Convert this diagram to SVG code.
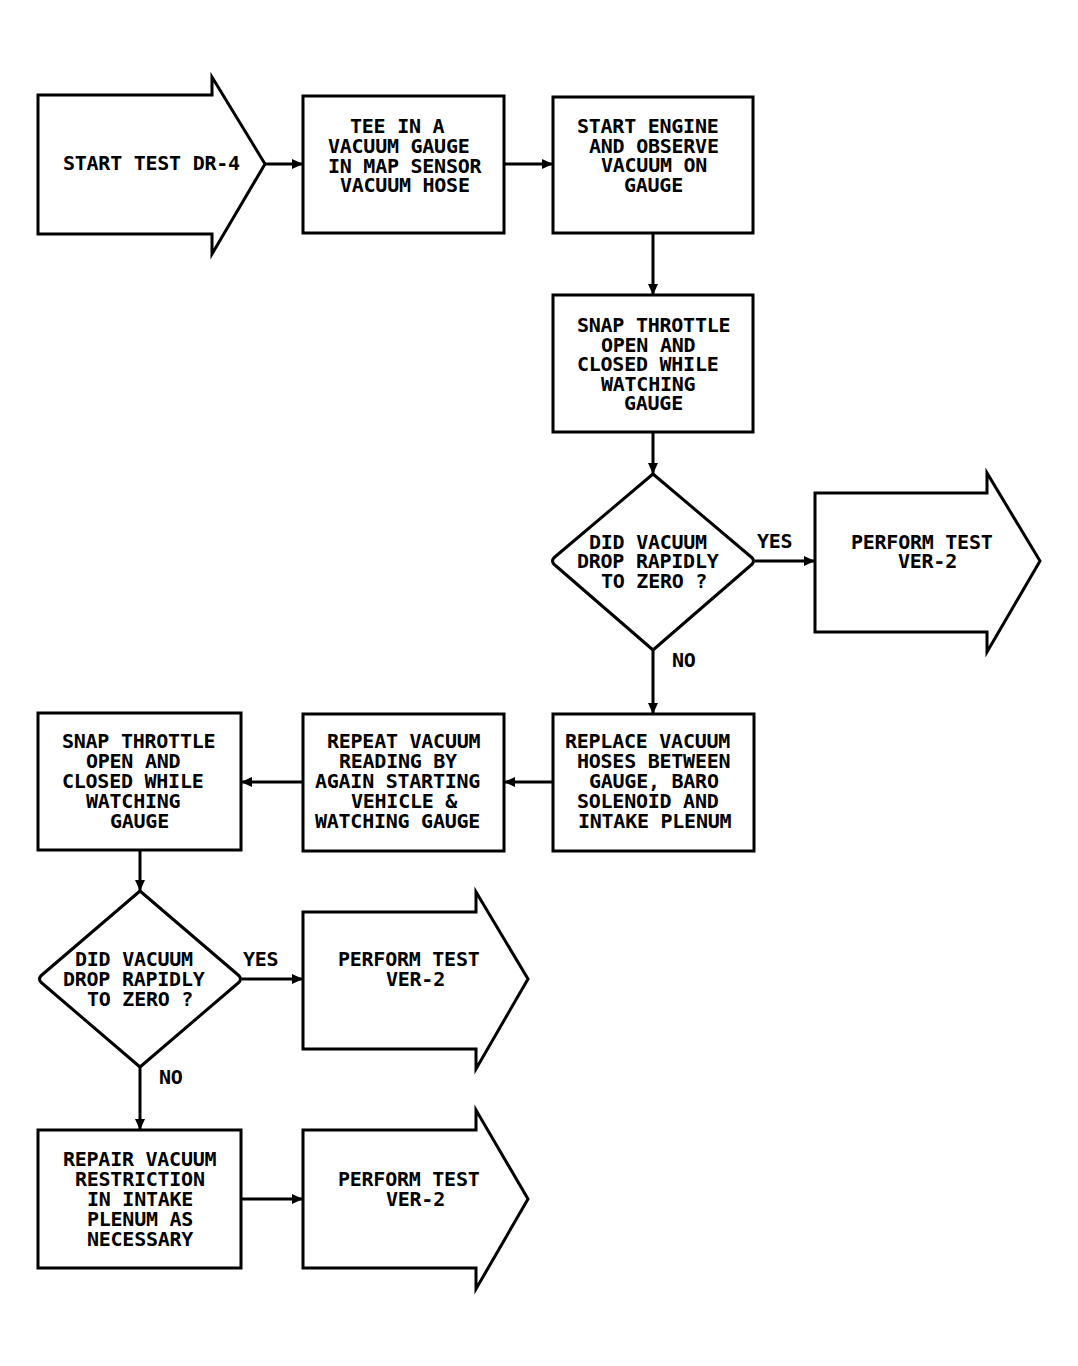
<svg xmlns="http://www.w3.org/2000/svg" width="1078" height="1366" viewBox="0 0 1078 1366">
<defs>
<style>
.s{fill:#fff;stroke:#000;stroke-width:3;stroke-linejoin:miter}
.d{fill:#fff;stroke:#000;stroke-width:3;stroke-linejoin:round}
.c{fill:none;stroke:#000;stroke-width:3}
text{font-family:"DejaVu Sans Mono","Liberation Mono",monospace;font-size:20px;font-weight:bold;letter-spacing:-0.25px;fill:#000}
</style>
<marker id="ah" markerUnits="userSpaceOnUse" markerWidth="12" markerHeight="10" refX="11" refY="5" orient="auto">
<path d="M0,0 L11,5 L0,10 z" fill="#000"/>
</marker>
</defs>
<rect width="1078" height="1366" fill="#fff"/>

<g id="start">
<polygon class="s" points="38,95 212,95 212,77 265,164 212,254 212,234 38,234"/>
<text x="63" y="170">START TEST DR-4</text>
</g>

<g id="tee">
<rect class="s" x="303" y="96" width="201" height="137"/>
<text x="350" y="133">TEE IN A</text>
<text x="328" y="153">VACUUM GAUGE</text>
<text x="328" y="173">IN MAP SENSOR</text>
<text x="340" y="192">VACUUM HOSE</text>
</g>

<g id="startengine">
<rect class="s" x="553" y="97" width="200" height="136"/>
<text x="577" y="133">START ENGINE</text>
<text x="589" y="153">AND OBSERVE</text>
<text x="601" y="172">VACUUM ON</text>
<text x="624" y="192">GAUGE</text>
</g>

<g id="snap1">
<rect class="s" x="553" y="295" width="200" height="137"/>
<text x="577" y="332">SNAP THROTTLE</text>
<text x="601" y="352">OPEN AND</text>
<text x="577" y="371">CLOSED WHILE</text>
<text x="601" y="391">WATCHING</text>
<text x="624" y="410">GAUGE</text>
</g>

<g id="decision1">
<path class="d" d="M653,474 L750,556 Q757,561 750,566 L653,650 L556,566 Q549,561 556,556 Z"/>
<text x="589" y="549">DID VACUUM</text>
<text x="577" y="568">DROP RAPIDLY</text>
<text x="601" y="588">TO ZERO ?</text>
</g>

<g id="perform1">
<polygon class="s" points="815,493 987,493 987,473 1040,561 987,652 987,632 815,632"/>
<text x="851" y="549">PERFORM TEST</text>
<text x="898" y="568">VER-2</text>
</g>

<g id="replace">
<rect class="s" x="553" y="714" width="201" height="137"/>
<text x="565" y="748">REPLACE VACUUM</text>
<text x="577" y="768">HOSES BETWEEN</text>
<text x="589" y="788">GAUGE, BARO</text>
<text x="577" y="808">SOLENOID AND</text>
<text x="578" y="828">INTAKE PLENUM</text>
</g>

<g id="repeat">
<rect class="s" x="303" y="714" width="201" height="137"/>
<text x="327" y="748">REPEAT VACUUM</text>
<text x="339" y="768">READING BY</text>
<text x="315" y="788">AGAIN STARTING</text>
<text x="351" y="808">VEHICLE &amp;</text>
<text x="315" y="828">WATCHING GAUGE</text>
</g>

<g id="snap2">
<rect class="s" x="38" y="713" width="203" height="137"/>
<text x="62" y="748">SNAP THROTTLE</text>
<text x="86" y="768">OPEN AND</text>
<text x="62" y="788">CLOSED WHILE</text>
<text x="86" y="808">WATCHING</text>
<text x="110" y="828">GAUGE</text>
</g>

<g id="decision2">
<path class="d" d="M140,891 L237,974 Q244,979 237,984 L140,1067 L43,984 Q36,979 43,974 Z"/>
<text x="75" y="966">DID VACUUM</text>
<text x="63" y="986">DROP RAPIDLY</text>
<text x="87" y="1006">TO ZERO ?</text>
</g>

<g id="perform2">
<polygon class="s" points="303,912 476,912 476,892 528,979 476,1069 476,1049 303,1049"/>
<text x="338" y="966">PERFORM TEST</text>
<text x="386" y="986">VER-2</text>
</g>

<g id="repair">
<rect class="s" x="38" y="1130" width="203" height="138"/>
<text x="63" y="1166">REPAIR VACUUM</text>
<text x="75" y="1186">RESTRICTION</text>
<text x="87" y="1206">IN INTAKE</text>
<text x="87" y="1226">PLENUM AS</text>
<text x="87" y="1246">NECESSARY</text>
</g>

<g id="perform3">
<polygon class="s" points="303,1130 476,1130 476,1110 528,1199 476,1289 476,1268 303,1268"/>
<text x="338" y="1186">PERFORM TEST</text>
<text x="386" y="1206">VER-2</text>
</g>

<g id="connectors">
<line class="c" x1="265" y1="164" x2="303" y2="164" marker-end="url(#ah)"/>
<line class="c" x1="504" y1="164" x2="553" y2="164" marker-end="url(#ah)"/>
<line class="c" x1="653" y1="233" x2="653" y2="295" marker-end="url(#ah)"/>
<line class="c" x1="653" y1="432" x2="653" y2="474" marker-end="url(#ah)"/>
<line class="c" x1="755" y1="561" x2="815" y2="561" marker-end="url(#ah)"/>
<line class="c" x1="653" y1="650" x2="653" y2="714" marker-end="url(#ah)"/>
<line class="c" x1="553" y1="782" x2="504" y2="782" marker-end="url(#ah)"/>
<line class="c" x1="303" y1="782" x2="241" y2="782" marker-end="url(#ah)"/>
<line class="c" x1="140" y1="850" x2="140" y2="891" marker-end="url(#ah)"/>
<line class="c" x1="242" y1="979" x2="303" y2="979" marker-end="url(#ah)"/>
<line class="c" x1="140" y1="1067" x2="140" y2="1130" marker-end="url(#ah)"/>
<line class="c" x1="241" y1="1199" x2="303" y2="1199" marker-end="url(#ah)"/>
<text x="757" y="548">YES</text>
<text x="672" y="667">NO</text>
<text x="243" y="966">YES</text>
<text x="159" y="1084">NO</text>
</g>
</svg>
